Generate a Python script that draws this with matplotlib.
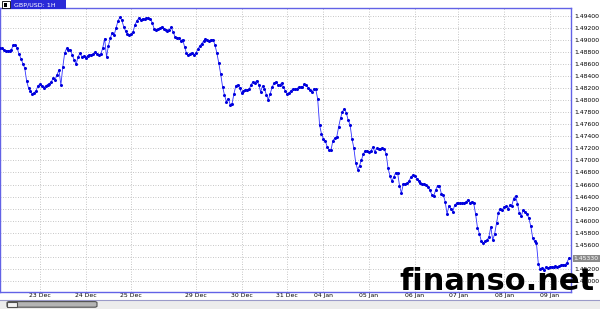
import matplotlib
matplotlib.use("Agg")
import matplotlib.pyplot as plt
from matplotlib.patches import Rectangle, FancyBboxPatch
from matplotlib.lines import Line2D
import numpy as np

title = "GBP/USD: 1H"
last_label = "1.45330"
watermark = "finanso.net"

# hourly closes GBP/USD
prices = [
    1.48859, 1.48859, 1.48839, 1.48814, 1.48823, 1.48823, 1.48839, 1.48914, 1.48922, 1.48864,
    1.48764, 1.48690, 1.48607, 1.48532, 1.48317, 1.48201, 1.48151, 1.48101, 1.48123, 1.48159,
    1.48242, 1.48262, 1.48242, 1.48209, 1.48234, 1.48259, 1.48275, 1.48308, 1.48362, 1.48342,
    1.48424, 1.48499, 1.48250, 1.48549, 1.48781, 1.48859, 1.48831, 1.48839, 1.48748, 1.48665,
    1.48594, 1.48715, 1.48776, 1.48723, 1.48731, 1.48706, 1.48736, 1.48756, 1.48748, 1.48759,
    1.48798, 1.48769, 1.48753, 1.48764, 1.48864, 1.49022, 1.48715, 1.48905, 1.49030, 1.49121,
    1.49080, 1.49196, 1.49312, 1.49373, 1.49328, 1.49221, 1.49146, 1.49096, 1.49080, 1.49096,
    1.49138, 1.49254, 1.49320, 1.49362, 1.49328, 1.49353, 1.49345, 1.49362, 1.49362, 1.49350,
    1.49287, 1.49187, 1.49171, 1.49182, 1.49191, 1.49216, 1.49182, 1.49162, 1.49146, 1.49171,
    1.49207, 1.49134, 1.49050, 1.49036, 1.49030, 1.48988, 1.49005, 1.48889, 1.48781, 1.48748,
    1.48773, 1.48789, 1.48753, 1.48781, 1.48847, 1.48897, 1.48939, 1.48980, 1.49018, 1.48997,
    1.48988, 1.49005, 1.49005, 1.48914, 1.48781, 1.48615, 1.48433, 1.48222, 1.48085, 1.47977,
    1.48027, 1.47927, 1.47944, 1.48109, 1.48242, 1.48255, 1.48201, 1.48118, 1.48146, 1.48176,
    1.48171, 1.48181, 1.48259, 1.48305, 1.48292, 1.48325, 1.48259, 1.48139, 1.48234, 1.48192,
    1.48093, 1.48007, 1.48101, 1.48212, 1.48280, 1.48303, 1.48259, 1.48250, 1.48284, 1.48217,
    1.48151, 1.48101, 1.48121, 1.48159, 1.48184, 1.48181, 1.48187, 1.48217, 1.48217, 1.48212,
    1.48267, 1.48250, 1.48209, 1.48167, 1.48138, 1.48184, 1.48179, 1.48018, 1.47587, 1.47438,
    1.47360, 1.47322, 1.47227, 1.47172, 1.47172, 1.47330, 1.47366, 1.47388, 1.47554, 1.47703,
    1.47808, 1.47861, 1.47794, 1.47670, 1.47595, 1.47363, 1.47206, 1.46957, 1.46849, 1.46915,
    1.47007, 1.47106, 1.47164, 1.47156, 1.47139, 1.47156, 1.47222, 1.47144, 1.47201, 1.47196,
    1.47189, 1.47214, 1.47189, 1.47106, 1.46869, 1.46745, 1.46653, 1.46725, 1.46799, 1.46794,
    1.46584, 1.46459, 1.46609, 1.46617, 1.46625, 1.46658, 1.46725, 1.46758, 1.46741, 1.46700,
    1.46667, 1.46625, 1.46609, 1.46612, 1.46595, 1.46564, 1.46502, 1.46434, 1.46410, 1.46509,
    1.46584, 1.46575, 1.46451, 1.46434, 1.46318, 1.46111, 1.46252, 1.46196, 1.46149, 1.46260,
    1.46289, 1.46297, 1.46289, 1.46293, 1.46298, 1.46310, 1.46352, 1.46300, 1.46315, 1.46293,
    1.46111, 1.45884, 1.45788, 1.45663, 1.45625, 1.45663, 1.45680, 1.45730, 1.45900, 1.45680,
    1.45779, 1.45957, 1.46136, 1.46201, 1.46184, 1.46227, 1.46240, 1.46191, 1.46260, 1.46244,
    1.46368, 1.46410, 1.46285, 1.46128, 1.46078, 1.46177, 1.46144, 1.46111, 1.46045, 1.45912,
    1.45721, 1.45657, 1.45627, 1.45282, 1.45199, 1.45211, 1.45186, 1.45234, 1.45224, 1.45229,
    1.45237, 1.45232, 1.45247, 1.45229, 1.45244, 1.45265, 1.45272, 1.45269, 1.45305, 1.45375,
]

day_labels = ["23 Dec", "24 Dec", "25 Dec", "29 Dec", "30 Dec", "31 Dec",
              "04 Jan", "05 Jan", "06 Jan", "07 Jan", "08 Jan", "09 Jan"]
day_start_bar = [21, 45, 69, 103, 127, 151, 170, 194, 218, 241, 265, 289]

price_ticks = [1.450, 1.452, 1.454, 1.456, 1.458, 1.460, 1.462, 1.464, 1.466, 1.468,
               1.470, 1.472, 1.474, 1.476, 1.478, 1.480, 1.482, 1.484, 1.486, 1.488,
               1.490, 1.492, 1.494]
hidden_tick = 1.454  # covered by the last-price box

W, H = 600, 309
fig = plt.figure(figsize=(W / 100, H / 100), dpi=100)
fig.patch.set_facecolor("white")

ax = fig.add_axes([0.0, 17.3 / H, 570.7 / W, (291.7 - 8.3) / H])
ax.set_facecolor("white")
bars = np.arange(len(prices))
ax.plot(bars, prices, color="#3030ff", lw=0.6, marker="o", ms=1.2,
        mfc="#0000dd", mec="#0000dd", zorder=3)

ax.set_xlim(0, 300)
ax.set_ylim(1.44823, 1.49523)

ax.set_xticks(day_start_bar)
ax.set_xticklabels(day_labels)
ax.set_yticks(price_ticks)
ax.set_yticklabels(["" if abs(v - hidden_tick) < 1e-9 else f"{v:.5f}" for v in price_ticks])
ax.yaxis.tick_right()
ax.tick_params(axis="y", length=0, pad=2.6, labelsize=4.4, colors="black")
ax.tick_params(axis="x", length=0, pad=0.8, labelsize=4.4, colors="black")

ax.grid(True, color="#b4b4b4", lw=0.6, linestyle=(0, (1, 2)))
ax.set_axisbelow(True)
for s in ax.spines.values():
    s.set_color("#6262e6")
    s.set_linewidth(1.0)

# last price box
ax.annotate(last_label, xy=(1.0, prices[-1]), xycoords=("axes fraction", "data"),
            xytext=(2.2, 0), textcoords="offset points", va="center", ha="left",
            fontsize=4.4, color="white",
            bbox=dict(boxstyle="square,pad=0.15", fc="#8a8a8a", ec="none"))

# title bar
fig.patches.append(Rectangle((11 / W, 1 - 9 / H), 55 / W, 9 / H, transform=fig.transFigure,
                             fc="#2a2ad8", ec="none", zorder=5))
fig.patches.append(Rectangle((1.5 / W, 1 - 8 / H), 8 / W, 7 / H, transform=fig.transFigure,
                             fc="white", ec="black", lw=0.6, zorder=5))
fig.patches.append(Rectangle((4 / W, 1 - 6.5 / H), 3 / W, 4 / H, transform=fig.transFigure,
                             fc="black", ec="none", zorder=6))
fig.text(14 / W, 1 - 4.6 / H, title, fontsize=4.6, color="white", va="center", ha="left",
         zorder=7)

# scrollbar strip
fig.patches.append(Rectangle((0, 0), 1, 9 / H, transform=fig.transFigure,
                             fc="#ececec", ec="none", zorder=1))
fig.lines.append(Line2D([0, 1], [9.5 / H, 9.5 / H], transform=fig.transFigure,
                        color="#9a9ac8", lw=0.8))
fig.patches.append(FancyBboxPatch((7 / W, 1.8 / H), 90 / W, 5.6 / H,
                                  boxstyle="round,pad=0,rounding_size=0.004",
                                  transform=fig.transFigure, fc="#b4b4b4", ec="#505050",
                                  lw=0.8, zorder=2))
fig.patches.append(Rectangle((7 / W, 1.8 / H), 10 / W, 5.6 / H, transform=fig.transFigure,
                             fc="#f2f2f2", ec="#505050", lw=0.8, zorder=3))

# watermark
fig.text(595 / W, (H - 290) / H, watermark, fontsize=22, fontweight="bold",
         family="DejaVu Sans", color="black", ha="right", va="baseline", zorder=10)

fig.savefig("out.png", dpi=100)
